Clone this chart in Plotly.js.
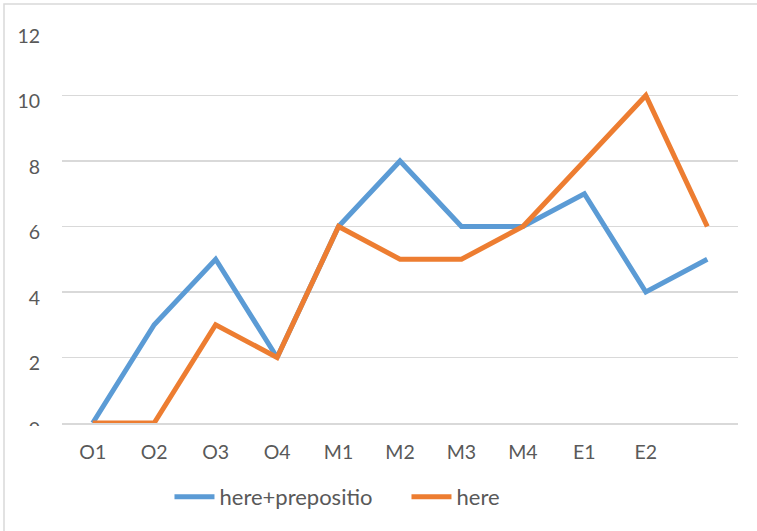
<!DOCTYPE html>
<html><head><meta charset="utf-8">
<script src="https://cdn.plot.ly/plotly-3.0.1.min.js"></script>
<style>html,body{margin:0;padding:0;background:#fff}#chart{width:757px;height:531px}</style>
</head><body><div id="chart"></div>
<script>
var categories = ['O1','O2','O3','O4','M1','M2','M3','M4','E1','E2',''];
var herePreposition = [0,3,5,2,6,8,6,6,7,4,5];
var here = [0,0,3,2,6,5,5,6,8,10,6];
var yTicks = [0,2,4,6,8,10,12];

var idx = categories.map(function(c,i){return i;});
var tickFont = {family:'Lato, "Open Sans", sans-serif', size:19.5, color:'#595959'};
var legendFont = {family:'Lato, "Open Sans", sans-serif', size:22, color:'#595959'};

var traces = [
  {x: idx, y: herePreposition, name: 'here+prepositio', mode:'lines', line:{color:'#5B9BD5', width:5}},
  {x: idx, y: here, name: 'here', mode:'lines', line:{color:'#ED7D31', width:5}}
];

var layout = {
  width:757, height:531,
  margin:{l:62, r:19, t:30, b:108},
  paper_bgcolor:'#fff', plot_bgcolor:'#fff',
  font: tickFont,
  showlegend:true,
  legend:{orientation:'h', x:0.159, xanchor:'left', y:-0.188, yanchor:'middle', font:legendFont, entrywidth:182, itemwidth:40},
  xaxis:{range:[-0.5,10.5], tickvals: idx, ticktext: categories, showgrid:false, zeroline:false,
         showline:true, linecolor:'#d9d9d9', linewidth:1.5, ticks:'', tickfont:tickFont, ticklabelstandoff:11, fixedrange:true},
  yaxis:{range:[0,12], tickvals: yTicks, showgrid:true, gridcolor:'#d9d9d9', gridwidth:1.5,
         zeroline:false, showline:false, ticks:'', tickfont:tickFont, ticklabelstandoff:21, ticklabelshift:6, fixedrange:true},
  shapes:[
    {type:'rect', xref:'paper', yref:'paper', x0:-0.0858, x1:1.04, y0:-0.3, y1:1.0662,
     line:{color:'#d9d9d9', width:1.5}, fillcolor:'rgba(0,0,0,0)', layer:'below'},
    {type:'rect', xref:'paper', yref:'paper', x0:-0.08, x1:-0.012, y0:-0.07, y1:-0.0076,
     line:{width:0}, fillcolor:'#fff', layer:'above'}
  ]
};
Plotly.newPlot('chart', traces, layout, {displayModeBar:false, staticPlot:true});
</script></body></html>
